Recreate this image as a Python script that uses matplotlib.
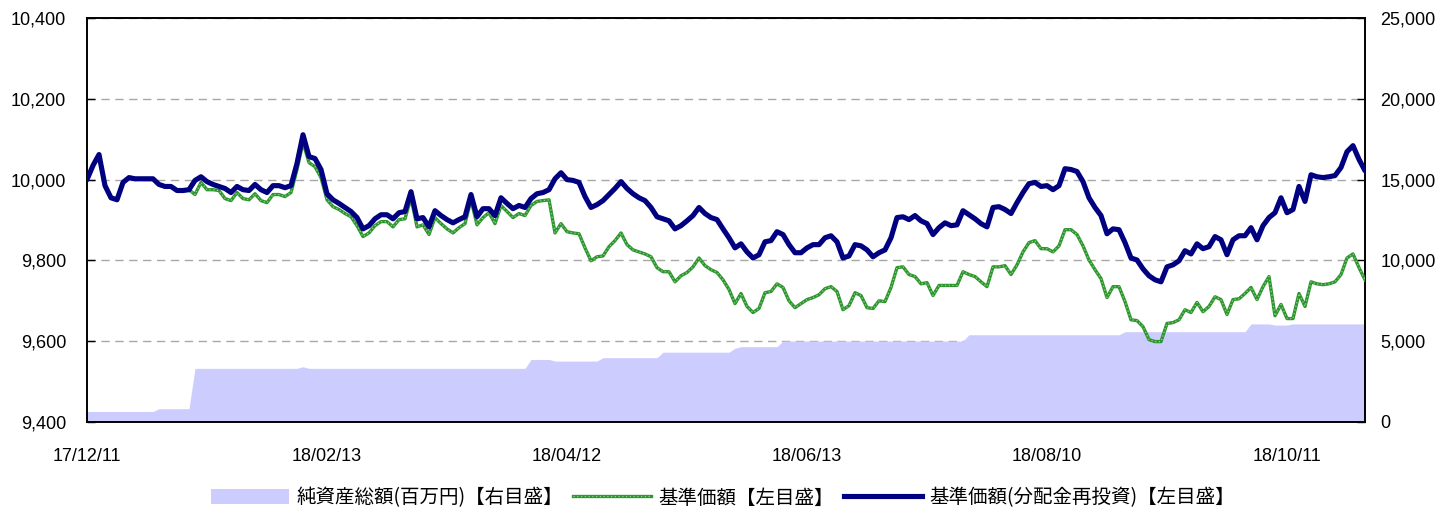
import numpy as np
import matplotlib
matplotlib.use("Agg")
import matplotlib.pyplot as plt
from matplotlib.patches import Patch
from matplotlib.lines import Line2D
from matplotlib.legend_handler import HandlerTuple
from matplotlib.ticker import FuncFormatter, MultipleLocator

plt.rcParams['font.family'] = ['Liberation Sans', 'Noto Sans CJK JP', 'DejaVu Sans']

# ---------------- data ----------------
tick_labels = ['17/12/11', '18/02/13', '18/04/12', '18/06/13', '18/08/10', '18/10/11']
label_every = 40  # one date label every 40 business days

nav_reinvest = [
    10000, 10035, 10062, 9985, 9955, 9950, 9993, 10005, 10002, 10002,
    10002, 10002, 9988, 9983, 9983, 9973, 9973, 9975, 9998, 10007,
    9995, 9988, 9983, 9978, 9968, 9983, 9975, 9973, 9988, 9975,
    9968, 9985, 9985, 9980, 9985, 10040, 10111, 10057, 10052, 10025,
    9965, 9950, 9941, 9931, 9921, 9906, 9878, 9886, 9903, 9913,
    9913, 9903, 9918, 9921, 9970, 9903, 9906, 9883, 9923, 9911,
    9901, 9893, 9901, 9908, 9963, 9908, 9928, 9928, 9911, 9955,
    9941, 9928, 9936, 9931, 9953, 9965, 9968, 9975, 10002, 10017,
    10000, 9998, 9993, 9958, 9931, 9938, 9948, 9963, 9978, 9995,
    9978, 9965, 9955, 9948, 9931, 9908, 9903, 9898, 9878, 9886,
    9898, 9911, 9931, 9916, 9906, 9901, 9878, 9856, 9831, 9841,
    9821, 9806, 9814, 9846, 9849, 9871, 9864, 9839, 9819, 9819,
    9831, 9839, 9839, 9856, 9861, 9846, 9806, 9811, 9839, 9836,
    9826, 9809, 9819, 9826, 9856, 9906, 9908, 9901, 9911, 9898,
    9891, 9864, 9881, 9893, 9886, 9888, 9923, 9913, 9903, 9891,
    9883, 9931, 9933, 9926, 9916, 9943, 9968, 9990, 9993, 9983,
    9985, 9975, 9985, 10027, 10025, 10020, 9995, 9955, 9931, 9911,
    9866, 9878, 9876, 9844, 9806, 9801, 9779, 9762, 9752, 9747,
    9784, 9789, 9799, 9824, 9816, 9841, 9829, 9834, 9859, 9851,
    9814, 9851, 9861, 9861, 9881, 9851, 9886, 9906, 9918, 9955,
    9918, 9926, 9983, 9946, 10012, 10007, 10005, 10007, 10010, 10030,
    10069, 10084, 10050, 10022,
]

nav = [
    10000, 10035, 10062, 9985, 9955, 9950, 9993, 10005, 10002, 10002,
    10002, 10002, 9988, 9983, 9983, 9973, 9973, 9975, 9963, 9993,
    9975, 9975, 9973, 9953, 9948, 9968, 9953, 9950, 9965, 9948,
    9943, 9963, 9963, 9958, 9968, 10025, 10092, 10042, 10032, 10005,
    9950, 9933, 9926, 9916, 9908, 9886, 9859, 9868, 9886, 9896,
    9896, 9883, 9901, 9903, 9955, 9883, 9888, 9864, 9906, 9891,
    9878, 9868, 9881, 9891, 9950, 9888, 9906, 9918, 9891, 9936,
    9921, 9906, 9916, 9911, 9936, 9946, 9948, 9950, 9868, 9891,
    9871, 9868, 9866, 9831, 9799, 9809, 9811, 9834, 9849, 9868,
    9839, 9826, 9821, 9816, 9809, 9782, 9772, 9772, 9747, 9762,
    9770, 9784, 9806, 9787, 9777, 9770, 9752, 9728, 9693, 9718,
    9686, 9671, 9681, 9720, 9723, 9742, 9733, 9700, 9683, 9693,
    9703, 9708, 9715, 9730, 9735, 9723, 9678, 9688, 9720, 9713,
    9683, 9681, 9700, 9698, 9733, 9782, 9784, 9765, 9760, 9742,
    9745, 9713, 9738, 9738, 9738, 9738, 9772, 9765, 9760, 9747,
    9735, 9784, 9784, 9787, 9765, 9789, 9821, 9844, 9849, 9829,
    9829, 9821, 9836, 9876, 9876, 9864, 9836, 9801, 9777, 9755,
    9708, 9735, 9735, 9698, 9653, 9651, 9636, 9604, 9599, 9599,
    9644, 9646, 9653, 9678, 9671, 9696, 9673, 9686, 9710, 9703,
    9666, 9703, 9705, 9718, 9733, 9703, 9735, 9760, 9663, 9691,
    9656, 9656, 9718, 9686, 9747, 9742, 9740, 9742, 9747, 9765,
    9806, 9816, 9782, 9752,
]

net_assets = [
    650, 650, 650, 650, 650, 650, 650, 650, 650, 650,
    650, 650, 820, 820, 820, 820, 820, 820, 3320, 3320,
    3320, 3320, 3320, 3320, 3320, 3320, 3320, 3320, 3320, 3320,
    3320, 3320, 3320, 3320, 3320, 3320, 3420, 3320, 3320, 3320,
    3320, 3320, 3320, 3320, 3320, 3320, 3320, 3320, 3320, 3320,
    3320, 3320, 3320, 3320, 3320, 3320, 3320, 3320, 3320, 3320,
    3320, 3320, 3320, 3320, 3320, 3320, 3320, 3320, 3320, 3320,
    3320, 3320, 3320, 3320, 3870, 3870, 3870, 3870, 3770, 3770,
    3770, 3770, 3770, 3770, 3770, 3770, 3980, 3980, 3980, 3980,
    3980, 3980, 3980, 3980, 3980, 3980, 4320, 4320, 4320, 4320,
    4320, 4320, 4320, 4320, 4320, 4320, 4320, 4320, 4560, 4660,
    4660, 4660, 4660, 4660, 4660, 4660, 5010, 5010, 5010, 5010,
    5010, 5010, 5010, 5010, 5010, 5010, 5010, 5010, 5010, 5010,
    5010, 5010, 5010, 5010, 5010, 5010, 5010, 5010, 5010, 5010,
    5010, 5010, 5010, 5010, 5010, 5010, 5010, 5400, 5400, 5400,
    5400, 5400, 5400, 5400, 5400, 5400, 5400, 5400, 5400, 5400,
    5400, 5400, 5400, 5400, 5400, 5400, 5400, 5400, 5400, 5400,
    5400, 5400, 5400, 5590, 5590, 5590, 5590, 5590, 5590, 5590,
    5590, 5590, 5590, 5590, 5590, 5590, 5590, 5590, 5590, 5590,
    5590, 5590, 5590, 5590, 6070, 6070, 6070, 6070, 6000, 6000,
    6000, 6070, 6070, 6070, 6070, 6070, 6070, 6070, 6070, 6070,
    6070, 6070, 6070, 6070,
]

labels = ['純資産総額(百万円)【右目盛】', '基準価額【左目盛】', '基準価額(分配金再投資)【左目盛】']

# ---------------- plot ----------------
W, H = 1455, 513
fig = plt.figure(figsize=(W / 100, H / 100), dpi=100)
L, R, T, B = 87, 1365, 18, 422
ax2 = fig.add_axes([L / W, 1 - B / H, (R - L) / W, (B - T) / H])
ax = ax2.twinx()
ax.yaxis.tick_left()
ax2.yaxis.tick_right()

x = np.arange(len(nav))

area_color = '#ccccff'
ax2.fill_between(x, 0, net_assets, color=area_color, lw=0, zorder=2)
ax2.set_ylim(0, 25000)
ax2.yaxis.set_major_locator(MultipleLocator(5000))
ax2.set_axisbelow(True)
ax2.grid(axis='y', color='#a8a8a8', linestyle=(0, (6, 4)), linewidth=1.0, zorder=0)

green_base = '#2e962e'
green_dots = '#8fd08f'
ax.plot(x, nav, color=green_base, lw=2.4, solid_joinstyle='round', zorder=3)
ax.plot(x, nav, color=green_dots, lw=0.9, linestyle=(0, (1, 2)), zorder=3.1)
ax.plot(x, nav_reinvest, color='#000080', lw=3.7, solid_joinstyle='round',
        solid_capstyle='round', zorder=4)

ax.set_ylim(9400, 10400)
ax.yaxis.set_major_locator(MultipleLocator(200))
ax2.set_xlim(0, len(nav) - 1)
ax2.set_xticks(x[::label_every])
ax2.set_xticklabels(tick_labels)

fmt = FuncFormatter(lambda v, p: f'{int(round(v)):,}')
ax.yaxis.set_major_formatter(fmt)
ax2.yaxis.set_major_formatter(fmt)

ax.set_zorder(ax2.get_zorder() + 1)
ax.patch.set_visible(False)

for a in (ax, ax2):
    for s in a.spines.values():
        s.set_color('#000000')
        s.set_linewidth(1.2)
ax.tick_params(axis='y', direction='in', length=6, width=1.0, labelsize=13, pad=15, colors='#000000')
ax2.tick_params(axis='y', direction='in', length=6, width=1.0, labelsize=13, pad=11, colors='#000000')
ax2.tick_params(axis='x', direction='in', length=6, width=1.0, labelsize=13, pad=18.5, colors='#000000')

# legend
h_area = Patch(facecolor=area_color, edgecolor='none')
h_green = (Line2D([], [], color=green_base, lw=2.4),
           Line2D([], [], color=green_dots, lw=0.9, linestyle=(0, (1, 2))))
h_blue = Line2D([], [], color='#000080', lw=3.7)
fig.legend([h_area, h_green, h_blue], labels,
           handler_map={tuple: HandlerTuple(ndivide=1, pad=0)},
           loc='center', bbox_to_anchor=(0.497, 1 - 498 / H), ncol=3, frameon=False,
           prop={'family': ['Noto Sans CJK JP', 'DejaVu Sans'], 'size': 14},
           handlelength=4.0, handleheight=0.8, handletextpad=0.4, columnspacing=0.5)

fig.savefig('out.png', dpi=100, facecolor='white')
